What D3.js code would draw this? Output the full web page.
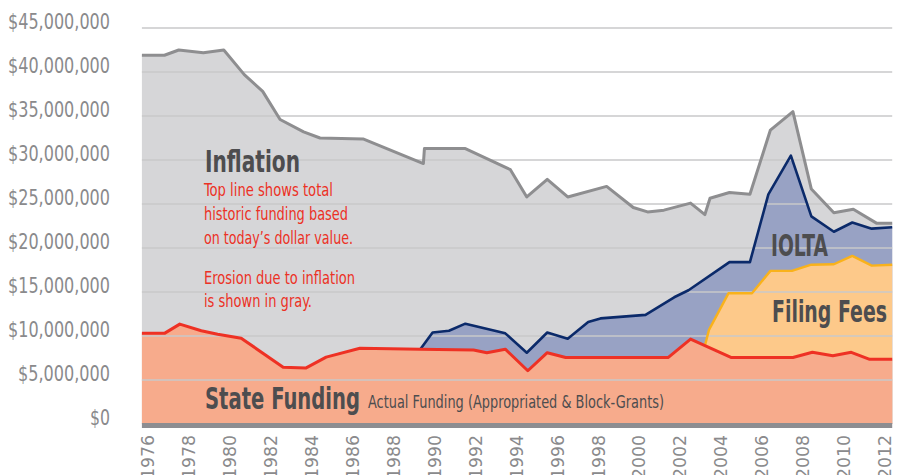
<!DOCTYPE html>
<html>
<head>
<meta charset="utf-8">
<script src="https://cdn.jsdelivr.net/npm/d3@7"></script>
<style>
  body { margin: 0; background: #fff; }
</style>
</head>
<body>
<script>
// values in millions of dollars; x is fiscal year
const yearTicks = d3.range(1976, 2013, 2);
const valueTicks = d3.range(0, 46, 5);

// top line: total historic funding in today's dollars
const inflationTotal = [
  [1975.8, 41.9], [1976.9, 41.9], [1977.6, 42.5], [1978.8, 42.2], [1979.8, 42.5],
  [1980.8, 39.7], [1981.7, 37.8], [1982.55, 34.6], [1983.7, 33.2], [1984.5, 32.5],
  [1986.6, 32.4], [1989.55, 29.6], [1989.6, 31.3], [1991.6, 31.3], [1993.8, 28.9],
  [1994.6, 25.8], [1995.6, 27.8], [1996.6, 25.8], [1998.5, 27.0], [1999.8, 24.6],
  [2000.5, 24.1], [2001.3, 24.3], [2002.6, 25.1], [2003.3, 23.8], [2003.55, 25.65],
  [2004.5, 26.3], [2005.5, 26.1], [2006.5, 33.4], [2007.6, 35.5], [2008.5, 26.7],
  [2009.6, 24.0], [2010.55, 24.4], [2011.7, 22.8], [2012.45, 22.8]
];

// state funding + IOLTA
const withIolta = [
  [1989.4, 8.5], [1990.0, 10.4], [1990.8, 10.6], [1991.6, 11.4], [1993.55, 10.3],
  [1994.6, 8.1], [1995.6, 10.4], [1996.6, 9.7], [1997.6, 11.6], [1998.2, 12.0],
  [2000.4, 12.4], [2001.8, 14.4], [2002.5, 15.2], [2004.5, 18.4], [2005.5, 18.4],
  [2006.4, 26.1], [2007.5, 30.5], [2008.5, 23.6], [2009.6, 21.85], [2010.5, 22.9],
  [2011.45, 22.2], [2012.45, 22.35]
];

// state funding + filing fees
const withFilingFees = [
  [2003.3, 8.9], [2003.5, 10.7], [2004.45, 14.85], [2005.6, 14.85], [2006.5, 17.4],
  [2007.55, 17.4], [2008.5, 18.1], [2009.6, 18.15], [2010.5, 19.1], [2011.45, 18.0],
  [2012.45, 18.1]
];

// actual state funding (appropriated & block-grants)
const stateFunding = [
  [1975.8, 10.3], [1976.9, 10.3], [1977.65, 11.35], [1978.7, 10.6], [1979.5, 10.2],
  [1980.65, 9.75], [1982.7, 6.45], [1983.8, 6.35], [1984.8, 7.6], [1986.45, 8.6],
  [1989.4, 8.5], [1992.0, 8.4], [1992.65, 8.1], [1993.55, 8.5], [1994.65, 6.05],
  [1995.6, 8.1], [1996.5, 7.55], [2001.5, 7.55], [2002.6, 9.65], [2004.6, 7.55],
  [2007.6, 7.55], [2008.55, 8.15], [2009.55, 7.75], [2010.45, 8.15], [2011.35, 7.35],
  [2012.45, 7.35]
];

const svg = d3.select("body").append("svg")
  .attr("width", 905)
  .attr("height", 475);

const x = d3.scaleLinear().domain([1976, 2012]).range([146, 883]);
const y = d3.scaleLinear().domain([0, 45]).range([424, 28]);

const left = x(inflationTotal[0][0]);
const right = x(inflationTotal[inflationTotal.length - 1][0]);

const area = d3.area()
  .x(d => x(d[0]))
  .y0(y(0))
  .y1(d => y(d[1]));

const line = d3.line()
  .x(d => x(d[0]))
  .y(d => y(d[1]));

const narrow = "'Liberation Sans Narrow', 'DejaVu Sans Condensed', sans-serif";

// fills, back to front
const layers = [
  { data: inflationTotal, fill: "#d6d6d8", stroke: "#8e8e90", w: 3 },
  { data: withIolta, fill: "#98a2c4", stroke: "#0b2a6a", w: 2.6 },
  { data: withFilingFees, fill: "#fdc98a", stroke: "#f9b21b", w: 2.4 },
  { data: stateFunding, fill: "#f7ab8c", stroke: "#ee3124", w: 3 }
];

svg.selectAll("path.fill")
  .data(layers)
  .enter()
  .append("path")
  .attr("class", "fill")
  .attr("d", d => area(d.data))
  .attr("fill", d => d.fill);

// grid lines sit over the fills
svg.selectAll("line.grid")
  .data(valueTicks.filter(v => v > 0))
  .enter()
  .append("line")
  .attr("class", "grid")
  .attr("x1", left)
  .attr("x2", right)
  .attr("y1", d => y(d))
  .attr("y2", d => y(d))
  .attr("stroke", "#c8c8ca")
  .attr("stroke-width", 1.3);

svg.selectAll("path.edge")
  .data(layers)
  .enter()
  .append("path")
  .attr("class", "edge")
  .attr("d", d => line(d.data))
  .attr("fill", "none")
  .attr("stroke", d => d.stroke)
  .attr("stroke-width", d => d.w)
  .attr("stroke-linejoin", "round");

// thick base line
svg.append("rect")
  .attr("x", left)
  .attr("y", y(0) - 1)
  .attr("width", right - left)
  .attr("height", 5)
  .attr("fill", "#8d8d91");

// y axis; labels squeezed to the condensed width of the original face
const dollars = v => d3.format("$,")(v * 1e6);
const yAxis = svg.append("g")
  .attr("transform", "translate(110,0)")
  .call(d3.axisLeft(y).tickValues(valueTicks).tickSize(0).tickPadding(0)
    .tickFormat(dollars));
yAxis.select(".domain").remove();
yAxis.selectAll("text")
  .attr("dy", "0.02em")
  .attr("fill", "#8a8a8c")
  .attr("font-family", narrow)
  .attr("font-size", 21)
  .attr("textLength", v => {
    const s = dollars(v);
    const commas = s.split(",").length - 1;
    return (s.length - commas) * 10 + commas * 6;
  })
  .attr("lengthAdjust", "spacingAndGlyphs");

// x axis, labels read bottom to top
const xAxis = svg.append("g")
  .attr("transform", "translate(0,428)")
  .call(d3.axisBottom(x).tickValues(yearTicks).tickSize(0).tickFormat(d3.format("d")));
xAxis.select(".domain").remove();
xAxis.selectAll("text")
  .attr("transform", "rotate(-90)")
  .attr("text-anchor", "end")
  .attr("x", -7)
  .attr("y", 0)
  .attr("dy", "0.45em")
  .attr("fill", "#8a8a8c")
  .attr("font-family", narrow)
  .attr("font-size", 17)
  .attr("textLength", 44)
  .attr("lengthAdjust", "spacingAndGlyphs");

function label(txt, px, py, size, weight, color, len) {
  svg.append("text")
    .attr("x", px)
    .attr("y", py)
    .attr("font-family", narrow)
    .attr("font-size", size)
    .attr("font-weight", weight)
    .attr("fill", color)
    .attr("textLength", len)
    .attr("lengthAdjust", "spacingAndGlyphs")
    .text(txt);
}

const dark = "#4d4d4f", red = "#ec3125";
label("Inflation", 205, 172, 30, "bold", dark, 95);
label("Top line shows total", 204, 196, 18.5, "normal", red, 129);
label("historic funding based", 204, 220, 18.5, "normal", red, 144);
label("on today\u2019s dollar value.", 204, 244, 18.5, "normal", red, 149);
label("Erosion due to inflation", 204, 284, 18.5, "normal", red, 151);
label("is shown in gray.", 204, 307, 18.5, "normal", red, 108);
label("IOLTA", 771, 256, 30, "bold", dark, 57);
label("Filing Fees", 772, 322, 30, "bold", dark, 115);
label("State Funding", 205, 409, 30, "bold", dark, 155);
label("Actual Funding (Appropriated & Block-Grants)", 368, 408, 18, "normal", dark, 296);
</script>
</body>
</html>
